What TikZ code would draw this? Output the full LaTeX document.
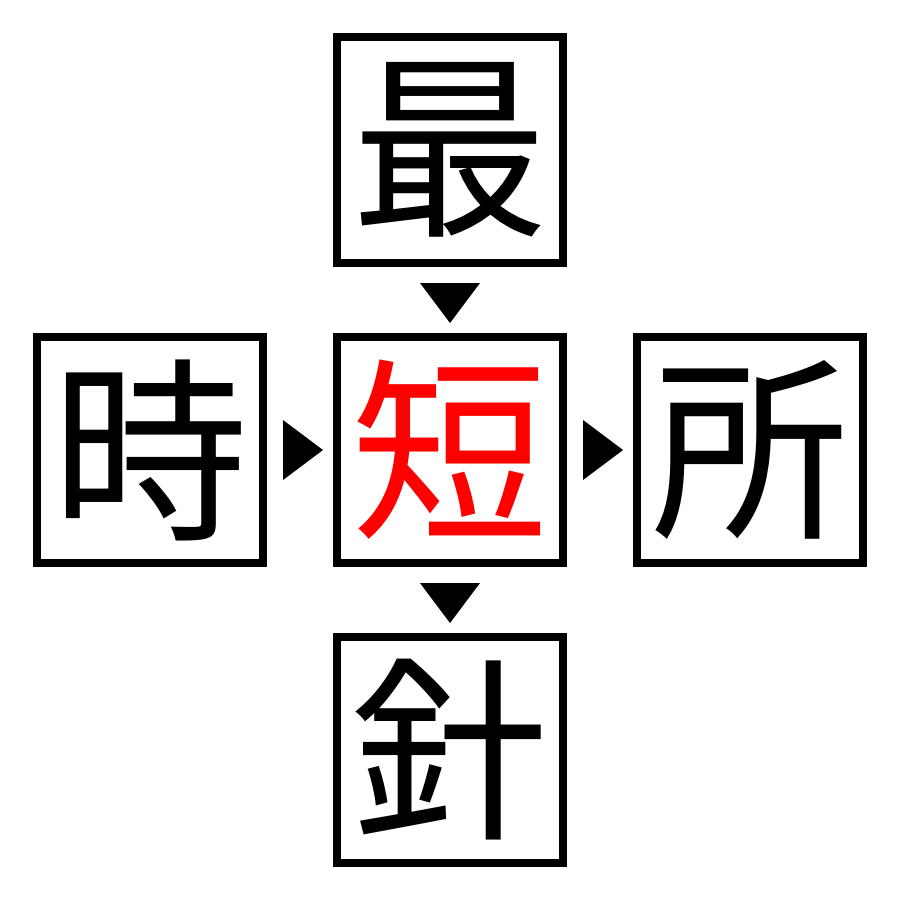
\documentclass[tikz,border=0pt]{standalone}
\usepackage{fontspec}
\newfontfamily\cjk{Noto Sans CJK JP}
\begin{document}
\begin{tikzpicture}[x=0.01cm,y=-0.01cm,
  kbox/.style={draw=black,line width=0.085cm,minimum size=2.26cm,inner sep=0pt,outer sep=0pt,
    font=\cjk\fontsize{56}{56}\selectfont},
  tri/.style={fill=black}]
\useasboundingbox (0,0) rectangle (900,900);
\node[kbox] (top) at (450,150) {最};
\node[kbox] (left) at (150,450) {時};
\node[kbox,text=red] (mid) at (450,450) {短};
\node[kbox] (right) at (750,450) {所};
\node[kbox] (bot) at (450,750) {針};
% triangles
\fill[tri] (420,283) -- (480,283) -- (450,323) -- cycle;
\fill[tri] (420,583) -- (480,583) -- (450,623) -- cycle;
\fill[tri] (283,420) -- (283,480) -- (323,450) -- cycle;
\fill[tri] (583,420) -- (583,480) -- (623,450) -- cycle;
\end{tikzpicture}
\end{document}
